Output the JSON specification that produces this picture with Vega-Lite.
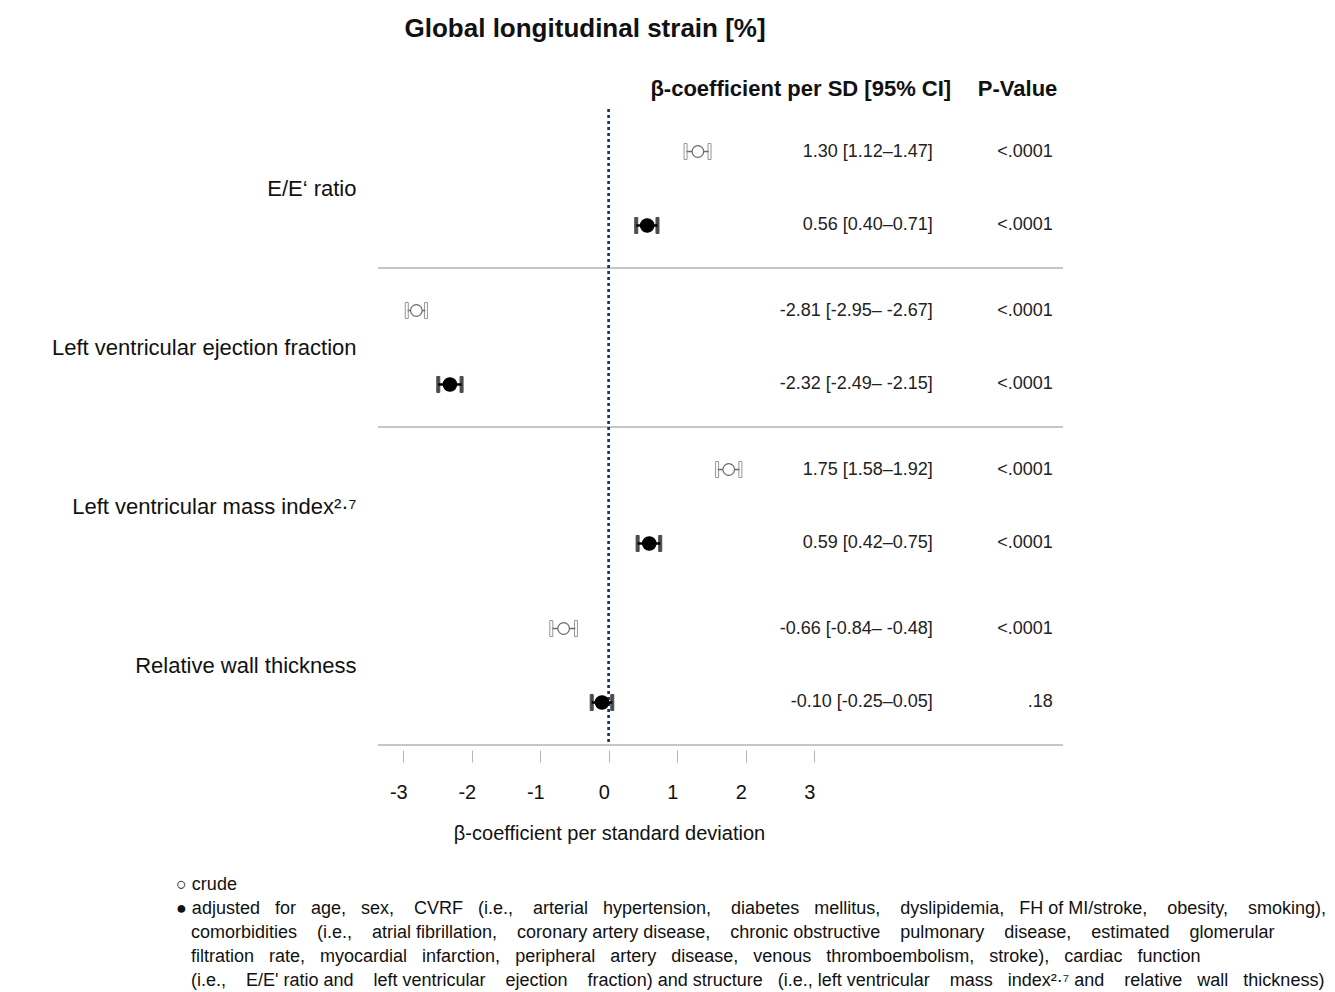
{
  "$schema": "https://vega.github.io/schema/vega-lite/v6.json",
  "padding": {"left": 51, "top": 16, "right": 2, "bottom": 2},
  "background": "white",
  "config": {"view": {"stroke": null}, "font": "Liberation Sans"},
  "title": {"text": "Global longitudinal strain [%]", "anchor": "start", "frame": "bounds", "dx": 353, "fontSize": 26, "fontWeight": "bold", "font": "Liberation Sans", "color": "#111111", "offset": 35},
  "datasets": {
    "rows": [
      {"variable": "E/E‘ ratio", "model": "crude", "est": 1.30, "lo": 1.12, "hi": 1.47, "ci": "1.30 [1.12–1.47]", "p": "<.0001"},
      {"variable": "E/E‘ ratio", "model": "adjusted", "est": 0.56, "lo": 0.40, "hi": 0.71, "ci": "0.56 [0.40–0.71]", "p": "<.0001"},
      {"variable": "Left ventricular ejection fraction", "model": "crude", "est": -2.81, "lo": -2.95, "hi": -2.67, "ci": "-2.81 [-2.95– -2.67]", "p": "<.0001"},
      {"variable": "Left ventricular ejection fraction", "model": "adjusted", "est": -2.32, "lo": -2.49, "hi": -2.15, "ci": "-2.32 [-2.49– -2.15]", "p": "<.0001"},
      {"variable": "Left ventricular mass index²·⁷", "model": "crude", "est": 1.75, "lo": 1.58, "hi": 1.92, "ci": "1.75 [1.58–1.92]", "p": "<.0001"},
      {"variable": "Left ventricular mass index²·⁷", "model": "adjusted", "est": 0.59, "lo": 0.42, "hi": 0.75, "ci": "0.59 [0.42–0.75]", "p": "<.0001"},
      {"variable": "Relative wall thickness", "model": "crude", "est": -0.66, "lo": -0.84, "hi": -0.48, "ci": "-0.66 [-0.84– -0.48]", "p": "<.0001"},
      {"variable": "Relative wall thickness", "model": "adjusted", "est": -0.10, "lo": -0.25, "hi": 0.05, "ci": "-0.10 [-0.25–0.05]", "p": ".18"}
    ],
    "seps": [
      {"variable": "E/E‘ ratio"},
      {"variable": "Left ventricular ejection fraction"},
      {"variable": "Relative wall thickness"}
    ]
  },
  "vconcat": [
    {
      "width": 685,
      "height": 636,
      "title": {
        "text": [
          "○ crude",
          "● adjusted \u00a0\u00a0for \u00a0\u00a0age, \u00a0\u00a0sex, \u00a0\u00a0\u00a0CVRF \u00a0\u00a0(i.e., \u00a0\u00a0\u00a0arterial \u00a0\u00a0hypertension, \u00a0\u00a0\u00a0diabetes \u00a0\u00a0mellitus, \u00a0\u00a0\u00a0dyslipidemia, \u00a0\u00a0FH of MI/stroke, \u00a0\u00a0\u00a0obesity, \u00a0\u00a0\u00a0smoking),",
          "\u200b\u00a0\u00a0\u00a0comorbidities \u00a0\u00a0\u00a0(i.e., \u00a0\u00a0\u00a0atrial fibrillation, \u00a0\u00a0\u00a0coronary artery disease, \u00a0\u00a0\u00a0chronic obstructive \u00a0\u00a0\u00a0pulmonary \u00a0\u00a0\u00a0disease, \u00a0\u00a0\u00a0estimated \u00a0\u00a0\u00a0glomerular",
          "\u200b\u00a0\u00a0\u00a0filtration \u00a0\u00a0rate, \u00a0\u00a0myocardial \u00a0\u00a0infarction, \u00a0\u00a0peripheral \u00a0\u00a0artery \u00a0\u00a0disease, \u00a0\u00a0venous \u00a0\u00a0thromboembolism, \u00a0\u00a0stroke), \u00a0\u00a0cardiac \u00a0\u00a0function",
          "\u200b\u00a0\u00a0\u00a0(i.e., \u00a0\u00a0\u00a0E/E' ratio and \u00a0\u00a0\u00a0left ventricular \u00a0\u00a0\u00a0ejection \u00a0\u00a0\u00a0fraction) and structure \u00a0\u00a0(i.e., left ventricular \u00a0\u00a0\u00a0mass \u00a0\u00a0index²·⁷ and \u00a0\u00a0\u00a0relative \u00a0\u00a0wall \u00a0\u00a0thickness)"
        ],
        "orient": "bottom",
        "anchor": "start",
        "frame": "group",
        "dx": -202,
        "fontSize": 18,
        "fontWeight": "normal",
        "lineHeight": 24,
        "color": "#111111",
        "offset": 33
      },
      "resolve": {"axis": {"x": "independent"}},
      "layer": [
        {
          "data": {"name": "seps"},
          "mark": {"type": "rule", "color": "#8c8c8c", "strokeWidth": 1},
          "encoding": {
            "y": {"field": "variable", "type": "nominal", "bandPosition": 1, "title": null,
              "scale": {"domain": ["E/E‘ ratio", "Left ventricular ejection fraction", "Left ventricular mass index²·⁷", "Relative wall thickness"], "paddingInner": 0, "paddingOuter": 0},
              "axis": {"ticks": false, "domain": false, "labelFontSize": 22, "labelColor": "#111111", "labelPadding": 22, "labelLimit": 500, "grid": false}}
          }
        },
        {
          "data": {"name": "rows"},
          "mark": {"type": "rule", "color": "#1f3a60", "strokeWidth": 2, "strokeDash": [3, 3]},
          "encoding": {
            "x": {"datum": 0, "type": "quantitative", "scale": {"domain": [-3.37, 6.63], "nice": false, "zero": false},
              "axis": {"orient": "top", "values": [4.99, 6.54], "labelExpr": "datum.value < 6 ? 'β-coefficient per SD [95% CI]' : 'P-Value'", "labelAlign": "right", "labelFontSize": 22, "labelFontWeight": "bold", "labelColor": "#111111", "labelLimit": 600, "ticks": false, "domain": false, "grid": false, "labelPadding": 9, "title": null, "labelOverlap": false, "labelBound": false, "labelFlush": false}}
          }
        },
        {
          "data": {"name": "rows"},
          "mark": {"type": "rule"},
          "encoding": {
            "y": {"field": "variable", "type": "nominal", "title": null},
            "yOffset": {"field": "model", "type": "nominal", "scale": {"domain": ["crude", "adjusted"], "paddingInner": 0, "paddingOuter": 0.075}},
            "x": {"field": "lo", "type": "quantitative", "scale": {"domain": [-3.37, 6.63], "nice": false, "zero": false},
              "axis": {"orient": "bottom", "values": [-3, -2, -1, 0, 1, 2, 3], "labelExpr": "'' + datum.value", "domain": false, "offset": 5, "tickSize": 12, "tickColor": "#b5b5b5", "tickWidth": 1, "labelFontSize": 20, "labelColor": "#111111", "labelPadding": 20, "labelOffset": -5, "grid": false, "title": "β-coefficient per standard deviation", "titleFontSize": 20, "titleFontWeight": "normal", "titleColor": "#111111", "titlePadding": 21, "titleX": 231}},
            "x2": {"field": "hi"},
            "stroke": {"field": "model", "type": "nominal", "scale": {"domain": ["crude", "adjusted"], "range": ["#6b6b6b", "#000000"]}, "legend": null},
            "strokeWidth": {"field": "model", "type": "nominal", "scale": {"domain": ["crude", "adjusted"], "range": [1.5, 2.5]}, "legend": null}
          }
        },
        {
          "data": {"name": "rows"},
          "mark": {"type": "tick", "thickness": 3, "strokeWidth": 1, "size": 16},
          "encoding": {
            "y": {"field": "variable", "type": "nominal", "title": null},
            "yOffset": {"field": "model", "type": "nominal"},
            "x": {"field": "lo", "type": "quantitative", "scale": {"domain": [-3.37, 6.63], "nice": false, "zero": false}, "axis": null},
            "fill": {"field": "model", "type": "nominal", "scale": {"domain": ["crude", "adjusted"], "range": ["#ffffff", "#000000"]}, "legend": null},
            "stroke": {"field": "model", "type": "nominal", "legend": null}
          }
        },
        {
          "data": {"name": "rows"},
          "mark": {"type": "tick", "thickness": 3, "strokeWidth": 1, "size": 16},
          "encoding": {
            "y": {"field": "variable", "type": "nominal", "title": null},
            "yOffset": {"field": "model", "type": "nominal"},
            "x": {"field": "hi", "type": "quantitative", "scale": {"domain": [-3.37, 6.63], "nice": false, "zero": false}, "axis": null},
            "fill": {"field": "model", "type": "nominal", "legend": null},
            "stroke": {"field": "model", "type": "nominal", "legend": null}
          }
        },
        {
          "data": {"name": "rows"},
          "mark": {"type": "point", "shape": "circle", "filled": false, "strokeWidth": 1.2, "opacity": 1},
          "encoding": {
            "y": {"field": "variable", "type": "nominal", "title": null},
            "yOffset": {"field": "model", "type": "nominal"},
            "x": {"field": "est", "type": "quantitative", "scale": {"domain": [-3.37, 6.63], "nice": false, "zero": false}, "axis": null},
            "size": {"field": "model", "type": "nominal", "scale": {"domain": ["crude", "adjusted"], "range": [135, 180]}, "legend": null},
            "fill": {"field": "model", "type": "nominal", "legend": null},
            "stroke": {"field": "model", "type": "nominal", "legend": null}
          }
        },
        {
          "data": {"name": "rows"},
          "mark": {"type": "text", "align": "right", "baseline": "middle", "fontSize": 18, "color": "#222222"},
          "encoding": {
            "y": {"field": "variable", "type": "nominal", "title": null},
            "yOffset": {"field": "model", "type": "nominal"},
            "x": {"datum": 4.73, "type": "quantitative", "scale": {"domain": [-3.37, 6.63], "nice": false, "zero": false}, "axis": null},
            "text": {"field": "ci"}
          }
        },
        {
          "data": {"name": "rows"},
          "mark": {"type": "text", "align": "right", "baseline": "middle", "fontSize": 18, "color": "#222222"},
          "encoding": {
            "y": {"field": "variable", "type": "nominal", "title": null},
            "yOffset": {"field": "model", "type": "nominal"},
            "x": {"datum": 6.48, "type": "quantitative", "scale": {"domain": [-3.37, 6.63], "nice": false, "zero": false}, "axis": null},
            "text": {"field": "p"}
          }
        }
      ]
    }
  ]
}
